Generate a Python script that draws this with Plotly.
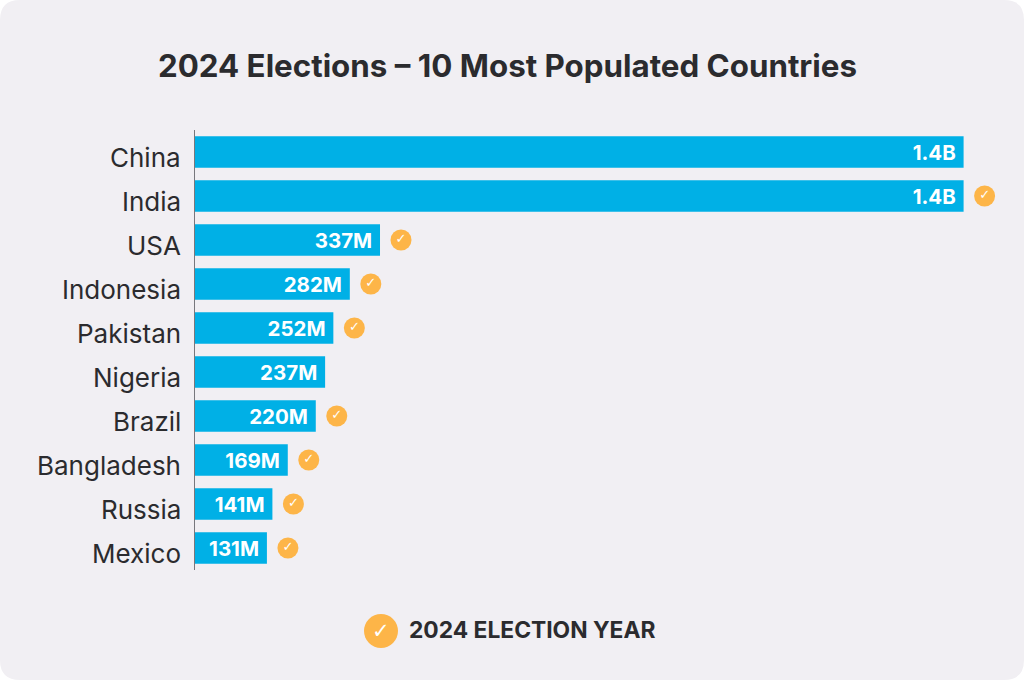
import plotly.graph_objects as go

countries = ['China', 'India', 'USA', 'Indonesia', 'Pakistan', 'Nigeria', 'Brazil', 'Bangladesh', 'Russia', 'Mexico']
population = [1400, 1400, 337, 282, 252, 237, 220, 169, 141, 131]
labels = ['1.4B', '1.4B', '337M', '282M', '252M', '237M', '220M', '169M', '141M', '131M']
election_2024 = [False, True, True, True, True, False, True, True, True, True]

W, H = 1024, 680
LEFT, TOP, BOTTOM = 195, 130, 570
PX_PER_M = 0.549
BAR = '#00b0e6'
ORANGE = '#fdb548'
INK = '#2b2b2e'
CARD = '#f1eff3'
FONT = 'Inter'


def px_x(x):
    return x / W


def px_y(y):
    return 1 - y / H


fig = go.Figure()

fig.add_trace(go.Bar(
    x=population,
    y=countries,
    orientation='h',
    marker_color=BAR,
    marker_line_width=0,
    text=[t + '\u00a0' for t in labels],
    textposition='inside',
    insidetextanchor='end',
    textangle=0,
    constraintext='none',
    textfont=dict(family=FONT, size=20.5, color='white', weight=700),
    hoverinfo='skip'
))

# галочки: кружок и белая отметка, в 21 px от конца столбца
check_x = [p + 21 / PX_PER_M for p, c in zip(population, election_2024) if c]
check_y = [n for n, c in zip(countries, election_2024) if c]
fig.add_trace(go.Scatter(
    x=check_x,
    y=check_y,
    mode='markers+text',
    marker=dict(size=21, color=ORANGE),
    text=['✓'] * len(check_x),
    textposition='middle center',
    textfont=dict(family='DejaVu Sans', size=13, color='white', weight=700),
    hoverinfo='skip'
))

fig.update_xaxes(visible=False, domain=[px_x(LEFT), 1], range=[0, (W - LEFT) / PX_PER_M], fixedrange=True)
fig.update_yaxes(
    domain=[px_y(BOTTOM), px_y(TOP)],
    categoryorder='array',
    categoryarray=countries[::-1],
    range=[-0.5, len(countries) - 0.5],
    showticklabels=False,
    ticks='',
    showgrid=False,
    zeroline=False,
    showline=True,
    linecolor='#77777c',
    linewidth=1,
    fixedrange=True
)

# подписи стран чуть ниже центра столбца, как в оригинале
annotations = [dict(
    x=0, y=n, xref='x', yref='y', text=n, showarrow=False,
    xanchor='right', xshift=-12, yshift=-5,
    font=dict(family=FONT, size=26, color=INK)
) for n in countries]

annotations += [
    dict(x=px_x(507), y=px_y(66), xref='paper', yref='paper', text='2024 Elections – 10 Most Populated Countries',
         showarrow=False, xanchor='center', yanchor='middle',
         font=dict(family=FONT, size=31.3, color=INK, weight=700)),
    dict(x=px_x(381), y=px_y(631), xref='paper', yref='paper', text='✓', showarrow=False,
         xanchor='center', yanchor='middle',
         font=dict(family='DejaVu Sans', size=21, color='white', weight=700)),
    dict(x=px_x(407), y=px_y(629), xref='paper', yref='paper', text='2024 ELECTION YEAR', showarrow=False,
         xanchor='left', yanchor='middle',
         font=dict(family=FONT, size=22.8, color=INK, weight=700)),
]

# карточка со скруглёнными углами
r = 20
card = (f'M {px_x(r)},1 L {px_x(W - r)},1 Q 1,1 1,{px_y(r)} L 1,{px_y(H - r)} '
        f'Q 1,0 {px_x(W - r)},0 L {px_x(r)},0 Q 0,0 0,{px_y(H - r)} L 0,{px_y(r)} Q 0,1 {px_x(r)},1 Z')

shapes = [
    dict(type='path', path=card, xref='paper', yref='paper', fillcolor=CARD, line_width=0, layer='below'),
    dict(type='circle', xref='paper', yref='paper', x0=px_x(364), x1=px_x(398), y0=px_y(648), y1=px_y(614),
         fillcolor=ORANGE, line_width=0, layer='below'),
]

fig.update_layout(
    width=W,
    height=H,
    margin=dict(l=0, r=0, t=0, b=0, autoexpand=False),
    paper_bgcolor='white',
    plot_bgcolor='rgba(0,0,0,0)',
    showlegend=False,
    bargap=0.28,
    annotations=annotations,
    shapes=shapes
)

fig.write_html('out.html', config={'displayModeBar': False},
               post_script="document.body.style.margin='0';document.body.style.overflow='hidden';")
